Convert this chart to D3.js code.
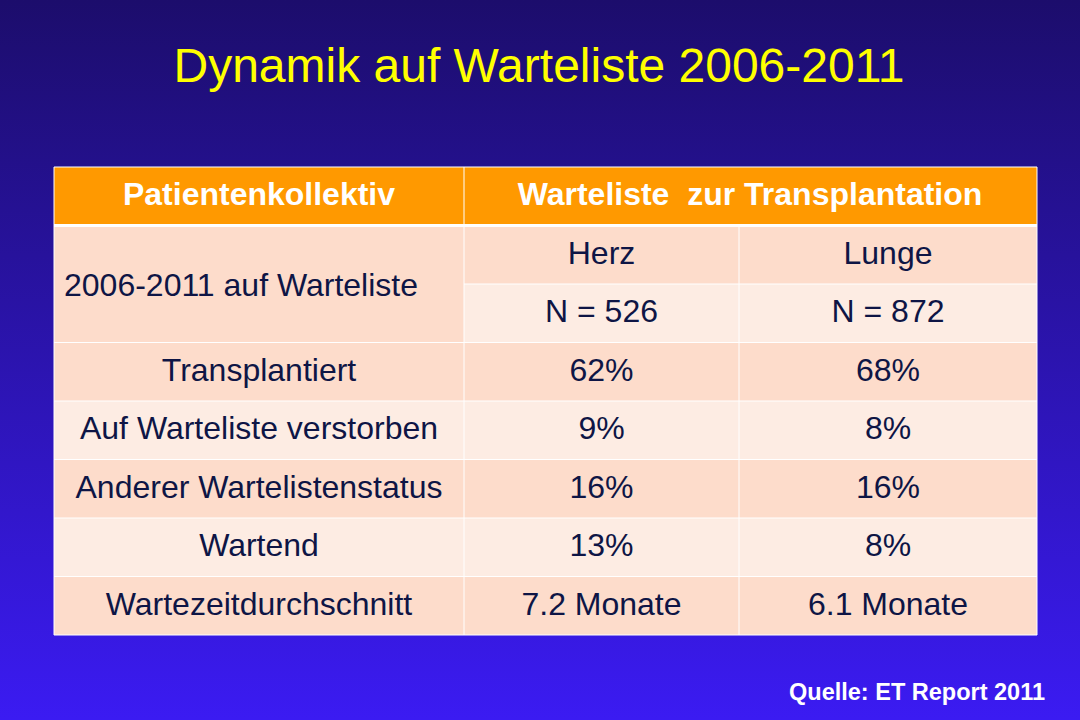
<!DOCTYPE html>
<html><head><meta charset="utf-8">
<script src="https://cdn.jsdelivr.net/npm/d3@7"></script>
<style>html,body{margin:0;padding:0;overflow:hidden}svg{display:block}</style>
</head><body>
<svg id="c" width="1080" height="720"></svg>
<script>
const title = "Dynamik auf Warteliste 2006-2011";
const headerLabels = ["Patientenkollektiv", "Warteliste  zur Transplantation"];
const groupLabel = "2006-2011 auf Warteliste";
const organs = ["Herz", "Lunge"];
const counts = ["N = 526", "N = 872"];
const rowLabels = ["Transplantiert", "Auf Warteliste verstorben", "Anderer Wartelistenstatus", "Wartend", "Wartezeitdurchschnitt"];
const herzValues = ["62%", "9%", "16%", "13%", "7.2 Monate"];
const lungeValues = ["68%", "8%", "16%", "8%", "6.1 Monate"];
const source = "Quelle: ET Report 2011";

const svg = d3.select("#c");
const W = 1080, H = 720;
const defs = svg.append("defs");
const g = defs.append("linearGradient").attr("id","bg").attr("x1",0).attr("y1",0).attr("x2",0).attr("y2",1);
g.append("stop").attr("offset","0%").attr("stop-color","#1c0d6c");
g.append("stop").attr("offset","100%").attr("stop-color","#3b1bf2");
svg.append("rect").attr("width",W).attr("height",H).attr("fill","url(#bg)");

const font = "Liberation Sans, Arial, sans-serif";
svg.append("text").attr("x",539).attr("y",82).attr("text-anchor","middle")
  .attr("font-family",font).attr("font-size",48)
  .attr("fill","#ffff00").text(title);

const textCol = "#0e1545";
const dark = "#fddccb", light = "#fdece3", orange = "#ff9900";

const rowKeys = ["header","organ","count"].concat(rowLabels);
const y = d3.scaleBand().domain(rowKeys).range([167, 635]).paddingInner(0);
const colKeys = ["label","Herz","Lunge","end"];
const colX = d3.scaleOrdinal().domain(colKeys).range([54, 464, 739, 1037]);
const nextKey = k => colKeys[colKeys.indexOf(k)+1];
const cx = k => (colX(k)+colX(nextKey(k)))/2;
const colW = k => colX(nextKey(k))-colX(k);

const tbl = svg.append("g");
tbl.append("rect").attr("x",colX("label")).attr("y",y("header")).attr("width",colX("end")-colX("label")).attr("height",y.bandwidth()).attr("fill",orange);
tbl.append("rect").attr("x",colX("label")).attr("y",y("organ")).attr("width",colW("label")).attr("height",2*y.bandwidth()).attr("fill",dark);
organs.forEach(o=>{
  tbl.append("rect").attr("x",colX(o)).attr("y",y("organ")).attr("width",colW(o)).attr("height",y.bandwidth()).attr("fill",dark);
  tbl.append("rect").attr("x",colX(o)).attr("y",y("count")).attr("width",colW(o)).attr("height",y.bandwidth()).attr("fill",light);
});
rowLabels.forEach((r,i)=>{
  tbl.append("rect").attr("x",colX("label")).attr("y",y(r)).attr("width",colX("end")-colX("label")).attr("height",y.bandwidth()).attr("fill", i%2===0?dark:light);
});

const lineCol = "#ffffff";
const hl = (yy, x1, x2, w) => tbl.append("line").attr("x1",x1).attr("x2",x2).attr("y1",yy).attr("y2",yy).attr("stroke",lineCol).attr("stroke-width",w);
const vl = (xx, y1, y2, w) => tbl.append("line").attr("x1",xx).attr("x2",xx).attr("y1",y1).attr("y2",y2).attr("stroke",lineCol).attr("stroke-width",w);
hl(y("header"), colX("label"), colX("end"), 1);
hl(y("organ"), colX("label"), colX("end"), 3);
hl(y("count"), colX("Herz"), colX("end"), 1);
rowLabels.forEach(r=>hl(y(r), colX("label"), colX("end"), 1));
hl(y(rowLabels[rowLabels.length-1])+y.bandwidth(), colX("label"), colX("end"), 1);
vl(colX("label"), y("header"), 635, 1);
vl(colX("Herz"), y("header"), 635, 1);
vl(colX("Lunge"), y("organ"), 635, 1);
vl(colX("end"), y("header"), 635, 1);

const txt = (x, yy, s, opts={}) => tbl.append("text").attr("x",x).attr("y",yy)
  .attr("text-anchor", opts.anchor||"middle").attr("dominant-baseline","central")
  .attr("font-family",font).attr("font-size",opts.size||32).attr("font-weight",opts.weight||"normal")
  .attr("fill",opts.fill||textCol).style("white-space","pre").text(s);

const mid = k => y(k)+y.bandwidth()/2 - 2;
txt(259, mid("header"), headerLabels[0], {weight:"bold", fill:"#ffffff"});
txt(750, mid("header"), headerLabels[1], {weight:"bold", fill:"#ffffff"});
txt(64, y("organ")+y.bandwidth()+1, groupLabel, {anchor:"start"});
organs.forEach((o,i)=>{ txt(cx(o), mid("organ"), o); txt(cx(o), mid("count"), counts[i]); });
rowLabels.forEach((r,i)=>{
  txt(259, mid(r), r);
  txt(cx("Herz"), mid(r), herzValues[i]);
  txt(cx("Lunge"), mid(r), lungeValues[i]);
});

svg.append("text").attr("x",1045).attr("y",700).attr("text-anchor","end")
  .attr("font-family",font).attr("font-size",23.5).attr("font-weight","bold")
  .attr("fill","#ffffff").text(source);
</script>
</body></html>
